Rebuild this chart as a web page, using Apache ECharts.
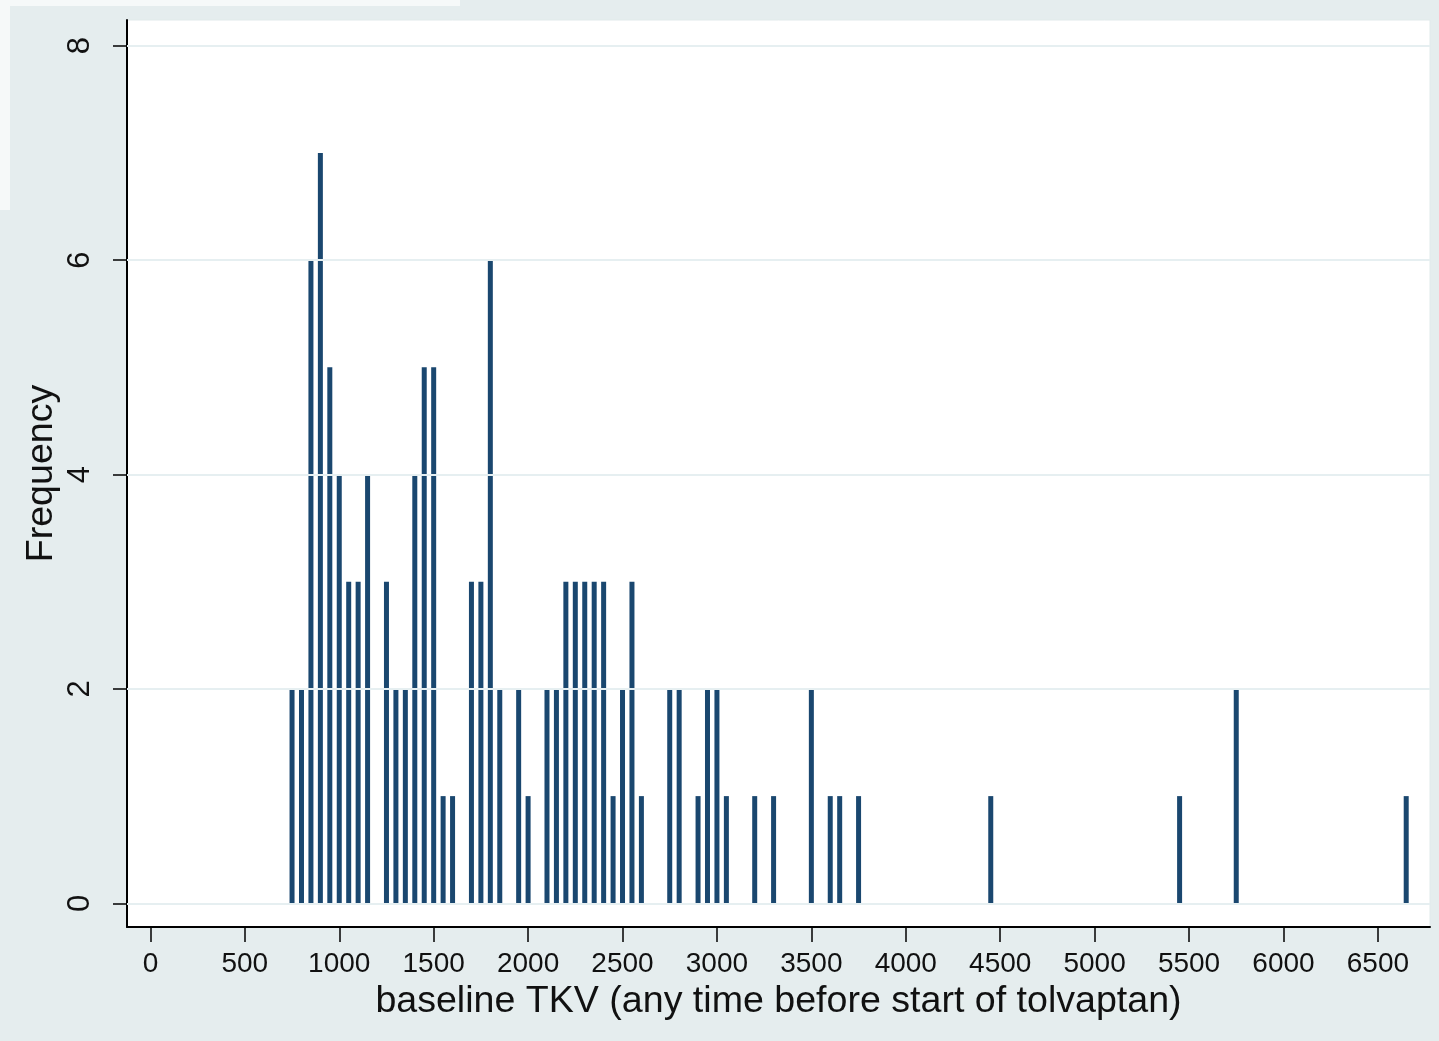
<!DOCTYPE html>
<html>
<head>
<meta charset="utf-8">
<script src="https://cdn.jsdelivr.net/npm/echarts@6/dist/echarts.min.js"></script>
<style>
html,body{margin:0;padding:0;background:#e5edee;}
#c{width:1439px;height:1041px;}
</style>
</head>
<body>
<div id="c"></div>
<script>
// ---- data ----
const binCenters = [750,800,850,900,950,1000,1050,1100,1150,
  1250,1300,1350,1400,1450,1500,1550,1600,
  1700,1750,1800,1850,
  1950,2000,
  2100,2150,
  2200,2250,2300,2350,2400,2450,2500,2550,2600,
  2750,2800,
  2900,2950,3000,3050,
  3200,3300,
  3500,3600,3650,3750,
  4450,5450,5750,6650];
const frequencies = [2,2,6,7,5,4,3,3,4,
  3,2,2,4,5,5,1,1,
  3,3,6,2,
  2,1,
  2,2,
  3,3,3,3,3,1,2,3,1,
  2,2,
  1,2,2,1,
  1,1,
  2,1,1,1,
  1,1,2,1];
const xTicks = [0,500,1000,1500,2000,2500,3000,3500,4000,4500,5000,5500,6000,6500];
const yTicks = [0,2,4,6,8];
const xTitle = 'baseline TKV (any time before start of tolvaptan)';
const yTitle = 'Frequency';

const font = '"Liberation Sans", Arial, Helvetica, sans-serif';
const chart = echarts.init(document.getElementById('c'), null, {renderer: 'canvas'});
chart.setOption({
  animation: false,
  backgroundColor: '#e5edee',
  graphic: [
    {type: 'rect', z: -10, shape: {x: 0, y: 0, width: 460, height: 6}, style: {fill: '#f6f9f9'}},
    {type: 'rect', z: -10, shape: {x: 0, y: 0, width: 10, height: 210}, style: {fill: '#f6f9f9'}}
  ],
  grid: {
    left: 127, top: 20, right: 9, bottom: 114,
    show: true, backgroundColor: '#ffffff', borderColor: '#e1eaeb', borderWidth: 1,
    outerBoundsMode: 'none'
  },
  xAxis: {
    type: 'value', min: -124, max: 6776,
    axisLine: {show: true, onZero: false, lineStyle: {color: '#000', width: 2}},
    axisTick: {show: true, customValues: xTicks, length: 15, lineStyle: {color: '#000', width: 1.5}},
    axisLabel: {customValues: xTicks, margin: 23, fontSize: 28, color: '#111', fontFamily: font,
      formatter: v => String(v)},
    splitLine: {show: false},
    name: xTitle, nameLocation: 'middle', nameGap: 56, nameMoveOverlap: false,
    nameTextStyle: {fontSize: 37.6, color: '#111', fontFamily: font}
  },
  yAxis: {
    type: 'value', min: -0.221, max: 8.24,
    axisLine: {show: true, onZero: false, lineStyle: {color: '#000', width: 2}},
    axisTick: {show: true, customValues: yTicks, length: 14, lineStyle: {color: '#000', width: 1.5}},
    axisLabel: {customValues: yTicks, rotate: 90, margin: 31, fontSize: 31, color: '#111', fontFamily: font,
      formatter: v => String(v)},
    splitLine: {show: false},
    name: yTitle, nameLocation: 'middle', nameRotate: 90, nameGap: 66, nameMoveOverlap: false,
    nameTextStyle: {fontSize: 37.6, color: '#111', fontFamily: font}
  },
  series: [
    {
      type: 'line', data: [], z: 1, silent: true,
      markLine: {
        silent: true, symbol: 'none', animation: false,
        label: {show: false},
        lineStyle: {color: '#e6eff1', width: 2, type: 'solid'},
        emphasis: {disabled: true},
        data: yTicks.map(v => ({yAxis: v}))
      }
    },
    {
      type: 'bar', z: 3, barWidth: 5,
      itemStyle: {color: '#1a476f'},
      data: binCenters.map((x, i) => [x, frequencies[i]])
    }
  ]
});
</script>
</body>
</html>
